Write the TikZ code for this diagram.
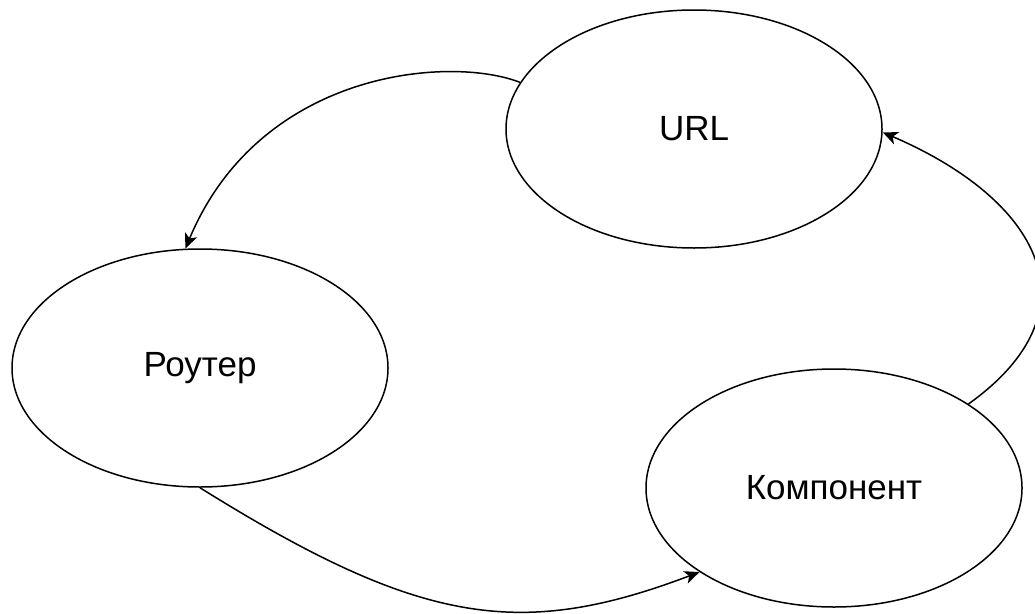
\documentclass[tikz,border=0pt]{standalone}
\usepackage{fontspec}
\setmainfont{Liberation Sans}
\usetikzlibrary{shapes.geometric,arrows.meta}
\begin{document}
\begin{tikzpicture}[x=1pt,y=-1pt,
  state/.style={ellipse,draw=black,line width=1.5pt,fill=white,
    minimum width=376pt,minimum height=238pt,inner sep=0pt,
    font=\fontsize{35}{42}\selectfont},
  link/.style={line width=1.5pt,-{Stealth[length=15pt,width=13pt,inset=4pt]}}]
\useasboundingbox (0,0) rectangle (1035,613);
\node[state] (url) at (694,129) {URL};
\node[state] (router) at (200,368) {Роутер};
\node[state] (comp) at (834,488) {Компонент};
% URL -> router
\draw[link] (url.165.5) .. controls (450,55) and (260,70) .. (router.97);
% router -> component
\draw[link] (router.south) .. controls (420,625) and (520,640) .. (comp.212.3);
% component -> URL
\draw[link] (comp.32.4) .. controls (1100,310) and (1040,200) .. (url.359);
\end{tikzpicture}
\end{document}
